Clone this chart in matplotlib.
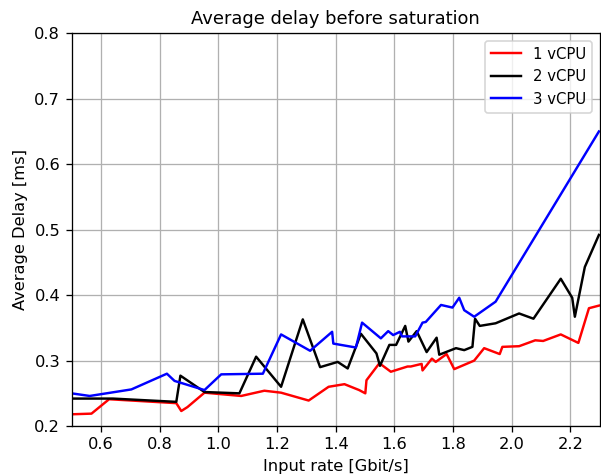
import matplotlib
matplotlib.use('Agg')
import matplotlib.pyplot as plt

# 1 vCPU
rate_1 = [0.50, 0.568, 0.628, 0.857, 0.874, 0.895, 0.953, 1.078, 1.157, 1.214, 1.308,
          1.376, 1.43, 1.48, 1.501, 1.505, 1.549, 1.588, 1.645, 1.656, 1.693, 1.696,
          1.728, 1.741, 1.778, 1.804, 1.872, 1.906, 1.959, 1.968, 2.025, 2.080, 2.107,
          2.167, 2.227, 2.263, 2.297]
delay_1 = [0.218, 0.219, 0.241, 0.235, 0.223, 0.229, 0.251, 0.246, 0.254, 0.251, 0.239,
           0.260, 0.264, 0.255, 0.250, 0.270, 0.296, 0.283, 0.291, 0.291, 0.295, 0.285,
           0.303, 0.298, 0.310, 0.287, 0.300, 0.319, 0.310, 0.321, 0.322, 0.331, 0.330,
           0.340, 0.327, 0.380, 0.384]

# 2 vCPU
rate_2 = [0.50, 0.641, 0.857, 0.871, 0.953, 1.072, 1.129, 1.214, 1.288, 1.347, 1.407,
          1.441, 1.486, 1.539, 1.551, 1.583, 1.606, 1.637, 1.648, 1.676, 1.71, 1.744,
          1.753, 1.81, 1.838, 1.866, 1.875, 1.891, 1.945, 2.025, 2.074, 2.167, 2.206,
          2.215, 2.249, 2.297]
delay_2 = [0.242, 0.242, 0.237, 0.277, 0.252, 0.250, 0.306, 0.260, 0.363, 0.290, 0.298,
           0.288, 0.341, 0.311, 0.292, 0.324, 0.324, 0.353, 0.329, 0.345, 0.313, 0.335,
           0.309, 0.319, 0.316, 0.321, 0.364, 0.353, 0.357, 0.372, 0.364, 0.425, 0.396,
           0.367, 0.443, 0.492]

# 3 vCPU
rate_3 = [0.50, 0.562, 0.704, 0.825, 0.851, 0.953, 1.01, 1.152, 1.214, 1.313, 1.388,
          1.392, 1.469, 1.490, 1.554, 1.579, 1.596, 1.619, 1.626, 1.671, 1.696, 1.707,
          1.759, 1.798, 1.821, 1.838, 1.872, 1.945, 2.297]
delay_3 = [0.250, 0.246, 0.256, 0.280, 0.269, 0.255, 0.279, 0.280, 0.340, 0.315, 0.344,
           0.326, 0.320, 0.358, 0.334, 0.345, 0.339, 0.344, 0.337, 0.337, 0.358, 0.359,
           0.385, 0.381, 0.396, 0.377, 0.367, 0.390, 0.650]

dpi = 117
fig = plt.figure(figsize=(601 / dpi, 475 / dpi), dpi=dpi)
ax = fig.add_axes([0.119, 0.103, 0.879, 0.827])
ax.plot(rate_1, delay_1, color='red', label='1 vCPU')
ax.plot(rate_2, delay_2, color='black', label='2 vCPU')
ax.plot(rate_3, delay_3, color='blue', label='3 vCPU')
ax.set_xlim(0.5, 2.3)
ax.set_ylim(0.2, 0.8)
ax.grid(True)
ax.set_title('Average delay before saturation', fontsize=11)
ax.set_xlabel('Input rate [Gbit/s]')
ax.set_ylabel('Average Delay [ms]')
ax.legend(loc='upper right', fontsize=9.2)
fig.savefig('out.png', dpi=dpi)
